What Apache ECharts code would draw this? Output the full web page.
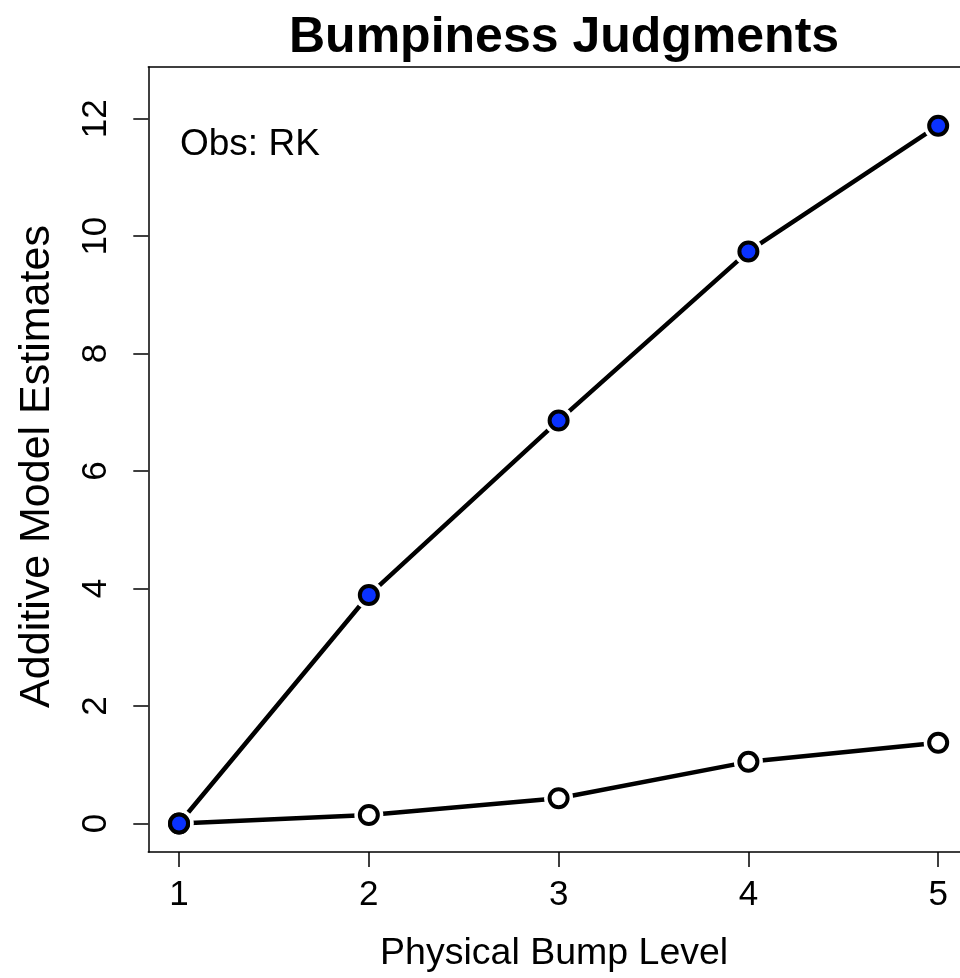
<!DOCTYPE html>
<html>
<head>
<meta charset="utf-8">
<script src="https://cdn.jsdelivr.net/npm/echarts@6/dist/echarts.min.js"></script>
<style>
html,body{margin:0;padding:0;background:#fff;}
#c{width:960px;height:978px;}
</style>
</head>
<body>
<div id="c"></div>
<script>
var levels = [1, 2, 3, 4, 5];
var filledValues = [0, 3.89, 6.86, 9.74, 11.88];
var openValues = [0, 0.145, 0.43, 1.05, 1.376];
var xTicks = [1, 2, 3, 4, 5];
var yTicks = [0, 2, 4, 6, 8, 10, 12];

function pairs(xs, ys) { return xs.map(function (x, i) { return [x, ys[i]]; }); }

var FONT = '"Liberation Sans", Arial, Helvetica, sans-serif';
var chart = echarts.init(document.getElementById('c'), null, {renderer: 'canvas'});

var X_MIN = 0.838, X_MAX = 5.115;
var lineStyle = {color: '#000', width: 4.5};
var option = {
  animation: false,
  backgroundColor: '#fff',
  title: {
    text: 'Bumpiness Judgments',
    left: 284, top: 8,
    textStyle: {fontFamily: FONT, fontSize: 50, fontWeight: 'bold', color: '#000'}
  },
  grid: {left: 148.3, top: 67, right: 0, height: 785, show: false},
  xAxis: [{
    type: 'value', min: X_MIN, max: X_MAX, position: 'bottom',
    name: 'Physical Bump Level', nameLocation: 'middle', nameGap: 102,
    nameTextStyle: {fontFamily: FONT, fontSize: 37.5, color: '#000', verticalAlign: 'middle'},
    axisLine: {show: true, onZero: false, lineStyle: {color: '#000', width: 1.5}},
    axisTick: {show: true, length: 15, lineStyle: {color: '#000', width: 1.5}, customValues: xTicks},
    axisLabel: {fontFamily: FONT, fontSize: 35, color: '#000', margin: 26, customValues: xTicks},
    splitLine: {show: false}
  }, {
    type: 'value', min: X_MIN, max: X_MAX, position: 'top',
    axisLine: {show: true, onZero: false, lineStyle: {color: '#000', width: 1.5}},
    axisTick: {show: false}, axisLabel: {show: false}, splitLine: {show: false}
  }],
  yAxis: {
    type: 'value', min: -0.485, max: 12.88,
    name: 'Additive Model Estimates', nameLocation: 'middle', nameGap: 111,
    nameTextStyle: {fontFamily: FONT, fontSize: 43, color: '#000', verticalAlign: 'middle', padding: [0, 14, 0, 0]},
    axisLine: {show: true, onZero: false, lineStyle: {color: '#000', width: 1.5}},
    axisTick: {show: true, length: 15, lineStyle: {color: '#000', width: 1.5}, customValues: yTicks},
    axisLabel: {fontFamily: FONT, fontSize: 35, color: '#000', margin: 34, rotate: 90, customValues: yTicks},
    splitLine: {show: false}
  },
  graphic: [{
    type: 'text', left: 180, top: 126,
    style: {text: 'Obs: RK', font: '37px ' + FONT, fill: '#000'}
  }],
  series: [
    {type: 'line', data: pairs(levels, openValues), symbol: 'none', lineStyle: lineStyle, z: 1},
    {type: 'line', data: pairs(levels, filledValues), symbol: 'none', lineStyle: lineStyle, z: 1},
    {type: 'scatter', data: pairs(levels, openValues), symbol: 'circle', symbolSize: 29,
     itemStyle: {color: '#fff', opacity: 1}, z: 2},
    {type: 'scatter', data: pairs(levels, filledValues), symbol: 'circle', symbolSize: 29,
     itemStyle: {color: '#fff', opacity: 1}, z: 2},
    {type: 'scatter', data: pairs(levels, openValues), symbol: 'circle', symbolSize: 18,
     itemStyle: {color: '#fff', borderColor: '#000', borderWidth: 4, opacity: 1}, z: 3},
    {type: 'scatter', data: pairs(levels, filledValues), symbol: 'circle', symbolSize: 18,
     itemStyle: {color: '#0a32ff', borderColor: '#000', borderWidth: 4, opacity: 1}, z: 4}
  ]
};
chart.setOption(option);
</script>
</body>
</html>
